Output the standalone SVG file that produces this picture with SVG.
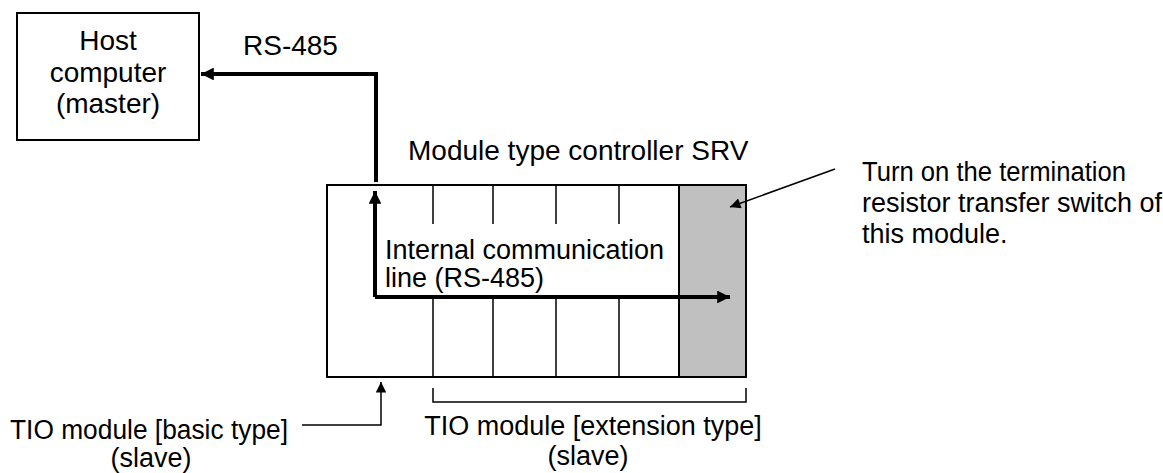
<svg xmlns="http://www.w3.org/2000/svg" width="1163" height="473" viewBox="0 0 1163 473">
<style>
text{font-family:"Liberation Sans",Arial,sans-serif;font-size:27px;fill:#000}
.big{font-size:28px}
.box{fill:#fff;stroke:#000;stroke-width:2}
.div{stroke:#000;stroke-width:1.5;fill:none}
.thick{stroke:#000;stroke-width:4;fill:none}
.thin{stroke:#000;stroke-width:1.5;fill:none}
</style>
<defs>
<marker id="ah" viewBox="0 0 10 10" refX="10" refY="5" markerWidth="3.6" markerHeight="3.2" orient="auto" markerUnits="strokeWidth"><path d="M0,0L10,5L0,10z" fill="#000"/></marker>
<marker id="ahs" viewBox="0 0 10 10" refX="10" refY="5" markerWidth="9" markerHeight="7" orient="auto" markerUnits="strokeWidth"><path d="M0,0L10,5L0,10z" fill="#000"/></marker>
</defs>
<rect width="1163" height="473" fill="#fff"/>
<g id="host">
<rect class="box" x="17" y="13" width="182" height="127"/>
<text class="big" x="108" y="50" text-anchor="middle">Host</text>
<text class="big" x="108" y="82" text-anchor="middle">computer</text>
<text class="big" x="108" y="113" text-anchor="middle">(master)</text>
</g>
<g id="controller">
<text class="big" x="408" y="160">Module type controller SRV</text>
<rect class="box" x="327" y="185" width="419" height="192"/>
<rect x="679" y="185" width="67" height="192" fill="#c0c0c0" stroke="#000" stroke-width="2"/>
<path class="div" d="M433,185V224M493,185V224M556,185V224M619,185V224M433,298V377M493,298V377M556,298V377M619,298V377"/>
</g>
<g id="note">
<text x="862" y="181" textLength="264" lengthAdjust="spacingAndGlyphs">Turn on the termination</text>
<text x="862" y="212">resistor transfer switch of</text>
<text x="862" y="243">this module.</text>
</g>
<g id="basic">
<text x="10" y="439" textLength="278" lengthAdjust="spacingAndGlyphs">TIO module [basic type]</text>
<text x="151" y="467" text-anchor="middle">(slave)</text>
</g>
<g id="extension">
<text x="593" y="435" text-anchor="middle">TIO module [extension type]</text>
<text x="588" y="465" text-anchor="middle">(slave)</text>
</g>
<g id="connectors">
<text class="big" x="243" y="55">RS-485</text>
<path class="thick" d="M376,182V74H201" marker-end="url(#ah)"/>
<path class="thick" d="M375,297V191" marker-end="url(#ah)"/>
<path class="thick" d="M375,297H730" marker-end="url(#ah)"/>
<text x="385" y="259">Internal communication</text>
<text x="385" y="287">line (RS-485)</text>
<path class="thin" d="M835,169L730,207" marker-end="url(#ahs)"/>
<path class="thin" d="M302,425H381V382" marker-end="url(#ahs)"/>
<path class="thin" d="M433,388V402H746V388"/>
</g>
</svg>
